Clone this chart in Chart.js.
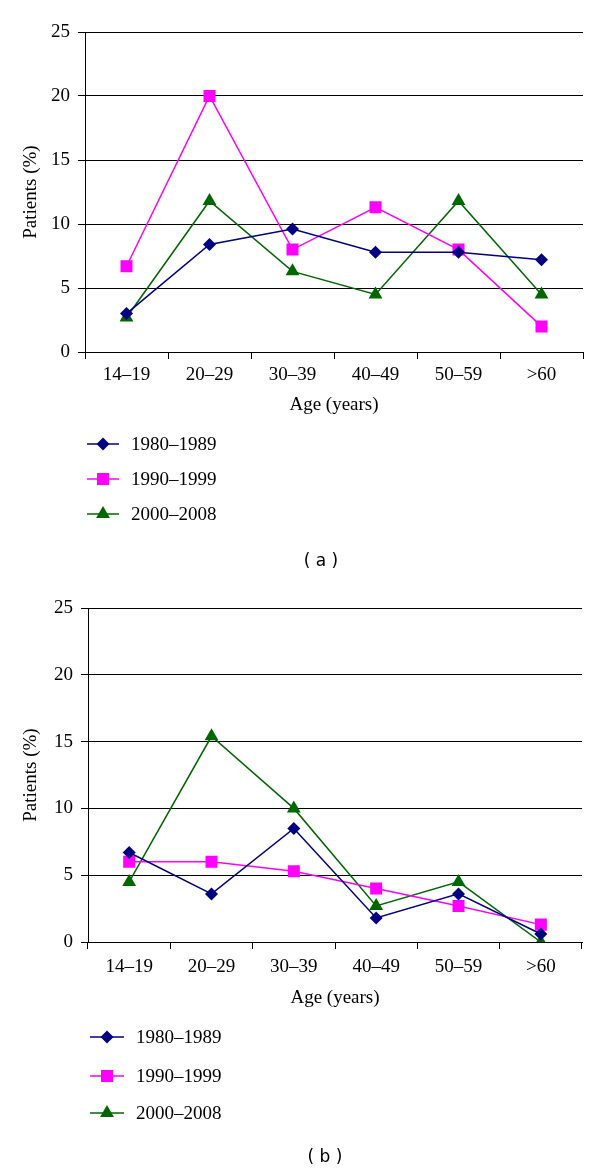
<!DOCTYPE html>
<html><head><meta charset="utf-8">
<script src="https://cdn.jsdelivr.net/npm/chart.js@4"></script>
<style>
html,body{margin:0;padding:0;background:#fff;}
.panel{position:absolute;left:0;width:600px;height:587px;}
</style></head><body>
<div class="panel" style="top:0"><canvas id="ca" width="600" height="587"></canvas></div>
<div class="panel" style="top:587px"><canvas id="cb" width="600" height="587"></canvas></div>
<script>
const categories = ['14–19','20–29','30–39','40–49','50–59','>60'];
const seriesNames = ['1980–1989','1990–1999','2000–2008'];
const a1980 = [3.0, 8.4, 9.6, 7.8, 7.8, 7.2];
const a1990 = [6.7, 20.0, 8.0, 11.3, 8.0, 2.0];
const a2000 = [2.7, 11.8, 6.3, 4.5, 11.8, 4.5];
const b1980 = [6.7, 3.6, 8.5, 1.8, 3.6, 0.6];
const b1990 = [6.0, 6.0, 5.3, 4.0, 2.7, 1.3];
const b2000 = [4.5, 15.4, 10.0, 2.7, 4.5, 0.0];
const yTickValues = [0, 5, 10, 15, 20, 25];
const xTitle = 'Age (years)';
const yTitle = 'Patients (%)';

const COLORS = ['#000080', '#FF00FF', '#006600'];
const STYLES = ['rectRot', 'rect', 'triangle'];
const RADII = [6.5, 8.5, 8];
const SERIF = '"Liberation Serif", "Times New Roman", serif';
const FS = 19;

function drawMarker(ctx, style, x, y, r, color) {
  ctx.save();
  ctx.fillStyle = color;
  ctx.beginPath();
  if (style === 'rectRot') {
    ctx.moveTo(x, y - r); ctx.lineTo(x + r, y); ctx.lineTo(x, y + r); ctx.lineTo(x - r, y);
  } else if (style === 'rect') {
    const s = r * Math.SQRT1_2;
    ctx.rect(x - s, y - s, 2 * s, 2 * s);
  } else {
    const a = 2 * Math.PI / 3;
    ctx.moveTo(x, y - r);
    ctx.lineTo(x + Math.sin(a) * r, y - Math.cos(a) * r);
    ctx.lineTo(x + Math.sin(2 * a) * r, y - Math.cos(2 * a) * r);
  }
  ctx.closePath();
  ctx.fill();
  ctx.restore();
}

const legendPlugin = {
  id: 'vlegend',
  afterDraw(chart, args, opts) {
    const ctx = chart.ctx;
    ctx.save();
    chart.data.datasets.forEach((ds, i) => {
      const y = opts.rows[i];
      ctx.strokeStyle = ds.borderColor;
      ctx.lineWidth = 1.5;
      ctx.beginPath();
      ctx.moveTo(opts.x0, y); ctx.lineTo(opts.x1, y);
      ctx.stroke();
      drawMarker(ctx, ds.pointStyle, (opts.x0 + opts.x1) / 2, y, ds.pointRadius, ds.backgroundColor);
      ctx.fillStyle = '#000';
      ctx.font = FS + 'px ' + SERIF;
      ctx.textAlign = 'left';
      ctx.textBaseline = 'middle';
      ctx.fillText(ds.label, opts.tx, y + 1);
    });
    ctx.font = '17px "DejaVu Sans", Verdana, sans-serif';
    ctx.textAlign = 'center';
    ctx.textBaseline = 'middle';
    ctx.fillStyle = '#000';
    ctx.fillText(opts.caption, opts.cx, opts.cy);
    ctx.restore();
  }
};

function makeChart(id, series, g) {
  const datasets = series.map((vals, i) => ({
    label: seriesNames[i],
    data: vals,
    borderColor: COLORS[i],
    backgroundColor: COLORS[i],
    borderWidth: 1.5,
    pointStyle: STYLES[i],
    pointRadius: RADII[i],
    pointHoverRadius: RADII[i],
    pointBorderWidth: 0,
    tension: 0,
    fill: false
  }));
  return new Chart(document.getElementById(id), {
    type: 'line',
    data: { labels: categories, datasets },
    plugins: [legendPlugin],
    options: {
      responsive: false,
      animation: false,
      events: [],
      layout: { padding: { left: 0, top: g.top, right: 600 - g.right, bottom: g.padBottom } },
      plugins: {
        legend: { display: false },
        tooltip: { enabled: false },
        vlegend: g.legend
      },
      scales: {
        x: {
          offset: true,
          afterFit: s => { s.height = g.xH; },
          grid: {
            offset: true,
            drawOnChartArea: true,
            color: c => (c.index === categories.length ? '#000' : 'rgba(0,0,0,0)'),
            tickColor: '#000',
            tickLength: 7,
            lineWidth: 1
          },
          border: { display: true, color: '#000', width: 1 },
          ticks: { color: '#000', padding: g.xPad, font: { family: SERIF, size: FS }, maxRotation: 0, autoSkip: false },
          title: { display: true, text: xTitle, color: '#000', font: { family: SERIF, size: FS }, padding: { top: 0, bottom: 0 } }
        },
        y: {
          min: 0, max: 25,
          afterFit: s => { s.width = g.left; },
          afterBuildTicks: s => { s.ticks = yTickValues.map(v => ({ value: v })); },
          grid: { color: '#000', tickColor: '#000', tickLength: 7, lineWidth: 1 },
          border: { display: true, color: '#000', width: 1 },
          ticks: { color: '#000', padding: 8, font: { family: SERIF, size: FS } },
          title: { display: true, text: yTitle, color: '#000', font: { family: SERIF, size: FS }, padding: { top: 19.6, bottom: 0 } }
        }
      }
    }
  });
}

makeChart('ca', [a1980, a1990, a2000], {
  left: 85, right: 583, top: 32, xH: 64.4, padBottom: 170.6, xPad: 4.6,
  legend: { x0: 87, x1: 119, tx: 131, rows: [444, 479, 514], caption: '( a )', cx: 321, cy: 562 }
});
makeChart('cb', [b1980, b1990, b2000], {
  left: 88, right: 582, top: 21, xH: 67.4, padBottom: 164.6, xPad: 6.6,
  legend: { x0: 90, x1: 124, tx: 136, rows: [450, 489, 526], caption: '( b )', cx: 325, cy: 571 }
});
</script>
</body></html>
